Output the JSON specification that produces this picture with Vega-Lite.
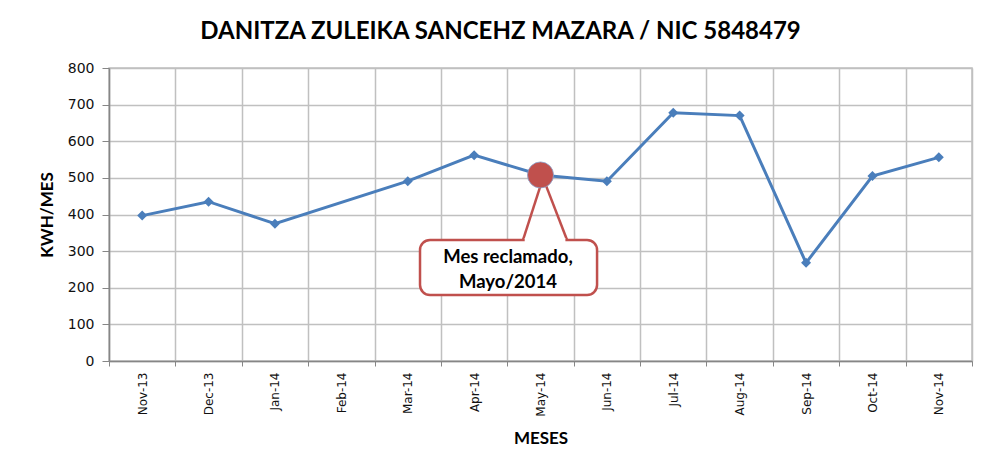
{
  "$schema": "https://vega.github.io/schema/vega-lite/v6.json",
  "width": 863,
  "height": 293,
  "autosize": {"type": "none"},
  "padding": {"left": 109, "top": 68, "right": 11, "bottom": 97},
  "background": "white",
  "title": {
    "text": "DANITZA ZULEIKA SANCEHZ MAZARA / NIC 5848479",
    "font": "Lato",
    "fontSize": 24,
    "fontWeight": "bold",
    "color": "#000000",
    "anchor": "middle",
    "offset": 17,
    "dx": -40
  },
  "config": {
    "view": {"stroke": "#c0c0c0", "strokeWidth": 1.5}
  },
  "layer": [
    {
      "data": {
        "values": [
          {"mes": "Nov-13", "kwh": 397},
          {"mes": "Dec-13", "kwh": 435},
          {"mes": "Jan-14", "kwh": 375},
          {"mes": "Mar-14", "kwh": 491},
          {"mes": "Apr-14", "kwh": 562},
          {"mes": "May-14", "kwh": 508},
          {"mes": "Jun-14", "kwh": 491},
          {"mes": "Jul-14", "kwh": 678},
          {"mes": "Aug-14", "kwh": 670},
          {"mes": "Sep-14", "kwh": 268},
          {"mes": "Oct-14", "kwh": 505},
          {"mes": "Nov-14", "kwh": 556}
        ]
      },
      "encoding": {
        "x": {
          "field": "mes",
          "type": "ordinal",
          "sort": null,
          "scale": {
            "type": "band",
            "domain": ["Nov-13", "Dec-13", "Jan-14", "Feb-14", "Mar-14", "Apr-14", "May-14", "Jun-14", "Jul-14", "Aug-14", "Sep-14", "Oct-14", "Nov-14"],
            "paddingInner": 0,
            "paddingOuter": 0
          },
          "axis": {
            "title": "MESES",
            "titleFont": "Lato",
            "titleFontSize": 17,
            "titleFontWeight": "bold",
            "titleColor": "#000000",
            "titlePadding": 14,
            "labelAngle": -90,
            "labelFont": "DejaVu Sans",
            "labelFontSize": 12,
            "labelColor": "#111111",
            "labelPadding": 6,
            "tickBand": "extent",
            "tickSize": 5,
            "tickColor": "#868686",
            "domainColor": "#868686",
            "domainWidth": 1.5,
            "grid": true,
            "gridColor": "#c0c0c0",
            "gridWidth": 1.5
          }
        },
        "y": {
          "field": "kwh",
          "type": "quantitative",
          "scale": {"domain": [0, 800], "nice": false},
          "axis": {
            "values": [0, 100, 200, 300, 400, 500, 600, 700, 800],
            "labelOverlap": false,
            "title": "KWH/MES",
            "titleFont": "Lato",
            "titleFontSize": 17,
            "titleFontWeight": "bold",
            "titleColor": "#000000",
            "titlePadding": 11,
            "labelFont": "DejaVu Sans",
            "labelFontSize": 14,
            "labelColor": "#111111",
            "labelPadding": 8,
            "tickSize": 7,
            "tickColor": "#868686",
            "domainColor": "#868686",
            "domainWidth": 1.5,
            "grid": true,
            "gridColor": "#c0c0c0",
            "gridWidth": 1.5
          }
        }
      },
      "layer": [
        {"mark": {"type": "line", "color": "#4a7ebb", "strokeWidth": 3}},
        {"mark": {"type": "point", "shape": "diamond", "filled": true, "size": 100, "color": "#4a7ebb", "opacity": 1}}
      ]
    },
    {
      "data": {"values": [{}]},
      "layer": [
        {
          "mark": {"type": "rule", "color": "#c0504d", "strokeWidth": 2.5},
          "encoding": {
            "x": {"datum": 6.237, "type": "quantitative", "scale": {"domain": [0, 13], "nice": false, "zero": false}, "axis": null},
            "x2": {"datum": 6.538},
            "y": {"datum": 330.4, "type": "quantitative", "scale": {"domain": [0, 800], "nice": false}, "axis": null},
            "y2": {"datum": 500}
          }
        },
        {
          "mark": {"type": "rule", "color": "#c0504d", "strokeWidth": 2.5},
          "encoding": {
            "x": {"datum": 6.9, "type": "quantitative", "axis": null},
            "x2": {"datum": 6.538},
            "y": {"datum": 330.4, "type": "quantitative", "axis": null},
            "y2": {"datum": 500}
          }
        },
        {
          "mark": {"type": "rect", "fill": "white", "stroke": "#c0504d", "strokeWidth": 2.5, "cornerRadius": 10},
          "encoding": {
            "x": {"datum": 4.685, "type": "quantitative", "axis": null},
            "x2": {"datum": 7.352},
            "y": {"datum": 330.4, "type": "quantitative", "axis": null},
            "y2": {"datum": 180}
          }
        },
        {
          "mark": {"type": "rule", "color": "white", "strokeWidth": 4},
          "encoding": {
            "x": {"datum": 6.262, "type": "quantitative", "axis": null},
            "x2": {"datum": 6.875},
            "y": {"datum": 330.4, "type": "quantitative", "axis": null}
          }
        },
        {
          "mark": {
            "type": "text",
            "text": ["Mes reclamado,", "Mayo/2014"],
            "font": "Lato",
            "fontSize": 18.5,
            "fontWeight": "bold",
            "color": "#000000",
            "align": "center",
            "baseline": "middle",
            "lineHeight": 25
          },
          "encoding": {
            "x": {"datum": 6.01, "type": "quantitative", "axis": null},
            "y": {"datum": 284, "type": "quantitative", "axis": null}
          }
        },
        {
          "mark": {"type": "point", "shape": "circle", "filled": true, "size": 680, "color": "#c0504d", "opacity": 1, "stroke": "#8aa5cf", "strokeWidth": 0.8},
          "encoding": {
            "x": {"datum": 6.5, "type": "quantitative", "axis": null},
            "y": {"datum": 508, "type": "quantitative", "axis": null}
          }
        }
      ]
    }
  ],
  "resolve": {"scale": {"x": "independent", "y": "independent"}}
}
